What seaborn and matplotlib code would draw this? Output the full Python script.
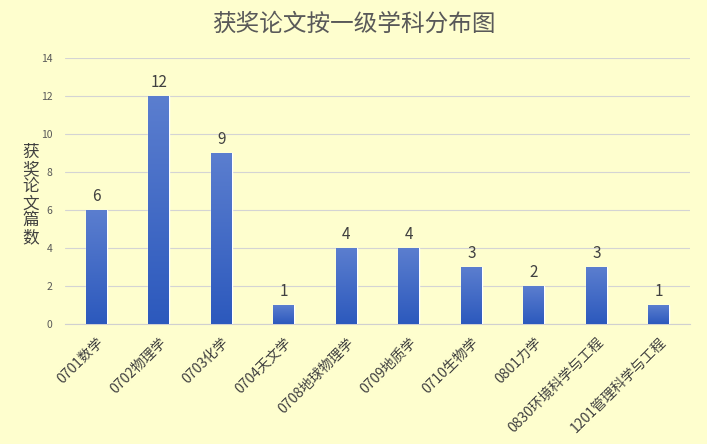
import numpy as np
import pandas as pd
import matplotlib
matplotlib.use('Agg')
import matplotlib.pyplot as plt
import seaborn as sns
from matplotlib.colors import LinearSegmentedColormap

# chart data
subjects = ['0701数学', '0702物理学', '0703化学', '0704天文学', '0708地球物理学',
            '0709地质学', '0710生物学', '0801力学', '0830环境科学与工程', '1201管理科学与工程']
counts = [6, 12, 9, 1, 4, 4, 3, 2, 3, 1]
y_ticks = [0, 2, 4, 6, 8, 10, 12, 14]

df = pd.DataFrame({'subject': subjects, 'count': counts})

sns.set_style('white')
plt.rcParams['font.family'] = ['Noto Sans CJK SC', 'DejaVu Sans']

bg = '#FEFECE'
fig = plt.figure(figsize=(7.07, 4.44), dpi=100, facecolor=bg)
ax = fig.add_axes([0.092, 0.27, 0.884, 0.599])
ax.set_facecolor(bg)

sns.barplot(data=df, x='subject', y='count', color='#3A66C4', width=0.33, ax=ax, zorder=3)

# vertical gradient fill on each bar
cmap = LinearSegmentedColormap.from_list('bars', ['#2C59BD', '#5B7ECF'])
grad = np.linspace(0, 1, 256).reshape(-1, 1)
for p in ax.patches:
    x0, y0 = p.get_x(), p.get_y()
    w, h = p.get_width(), p.get_height()
    im = ax.imshow(grad, cmap=cmap, origin='lower', aspect='auto',
                   extent=[x0, x0 + w, y0, y0 + h], zorder=4)
    im.set_clip_path(p)
    ax.annotate(f'{int(h)}', (x0 + w / 2, h), xytext=(0, 4), textcoords='offset points',
                ha='center', va='bottom', fontsize=11, color='#404040', zorder=5)

ax.set_xlim(-0.5, len(subjects) - 0.5)
ax.set_ylim(0, 14)
ax.set_yticks(y_ticks)
ax.tick_params(axis='y', labelsize=7.5, colors='#595959', length=0, pad=9)
ax.tick_params(axis='x', length=0, pad=8)
ax.set_xticks(range(len(subjects)))
ax.set_xticklabels(subjects, rotation=45, ha='right', rotation_mode='anchor',
                   fontsize=10, color='#404040')
ax.yaxis.grid(True, color='#D4D4D4', linewidth=0.8, zorder=0)
for s in ['top', 'right', 'left']:
    ax.spines[s].set_visible(False)
ax.spines['bottom'].set_color('#D0D0D0')
ax.set_xlabel('')
ax.set_ylabel('')

fig.text(0.5, 0.945, '获奖论文按一级学科分布图', ha='center', va='center',
         fontsize=17, color='#595959')
fig.text(0.043, 0.56, '\n'.join('获奖论文篇数'), ha='center', va='center',
         fontsize=12, color='#404040', linespacing=1.0)

fig.savefig('out.png', dpi=100, facecolor=bg)
